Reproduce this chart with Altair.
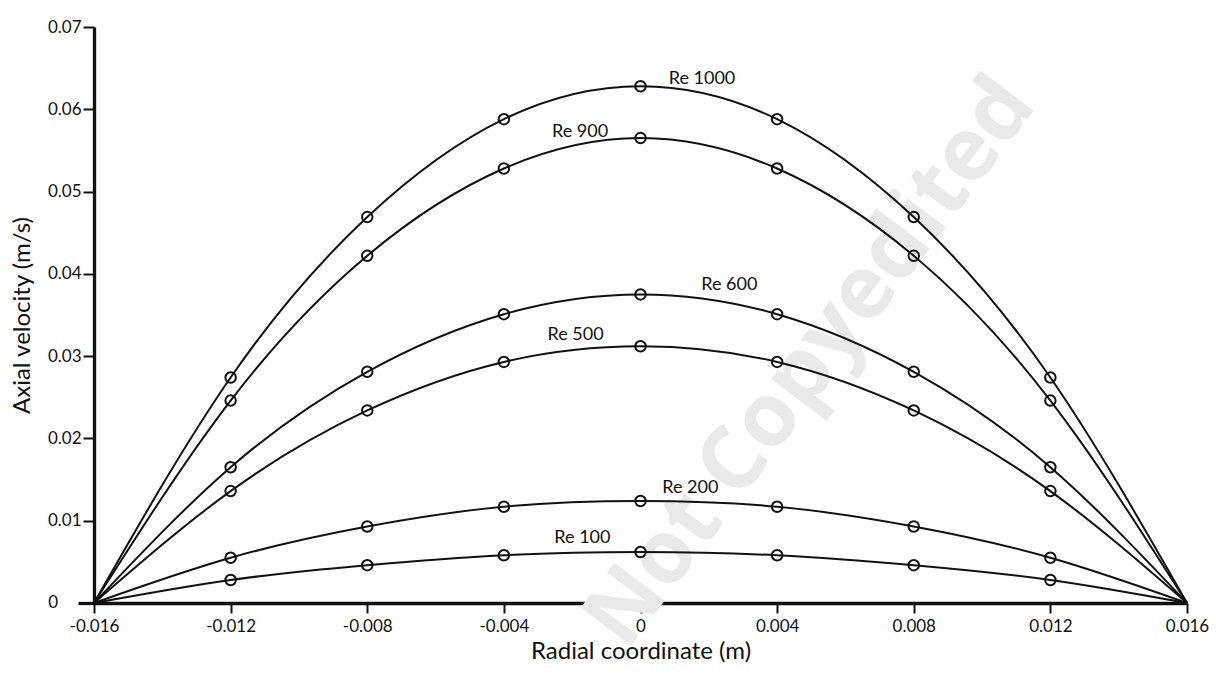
import altair as alt
import pandas as pd

# Radial positions of the sampled points (m)
radial = [-0.012, -0.008, -0.004, 0.0, 0.004, 0.008, 0.012]
wall = 0.016

# Axial velocity (m/s) at each radial position, per Reynolds number
series_names = ["Re 1000", "Re 900", "Re 600", "Re 500", "Re 200", "Re 100"]
vel_re1000 = [0.0274, 0.0469, 0.0588, 0.0628, 0.0588, 0.0469, 0.0274]
vel_re900 = [0.0246, 0.0422, 0.0528, 0.0565, 0.0528, 0.0422, 0.0246]
vel_re600 = [0.0165, 0.0281, 0.0351, 0.0375, 0.0351, 0.0281, 0.0165]
vel_re500 = [0.0136, 0.0234, 0.0293, 0.0312, 0.0293, 0.0234, 0.0136]
vel_re200 = [0.0055, 0.0093, 0.0117, 0.0124, 0.0117, 0.0093, 0.0055]
vel_re100 = [0.0028, 0.0046, 0.0058, 0.0062, 0.0058, 0.0046, 0.0028]
velocities = [vel_re1000, vel_re900, vel_re600, vel_re500, vel_re200, vel_re100]

# Curve label anchors (data coordinates)
label_x = [0.0018, -0.00177, 0.0026, -0.0019, 0.00146, -0.0017]
label_y = [0.0637, 0.0572, 0.0387, 0.0326, 0.0140, 0.0079]

# Tick values
x_ticks = [-0.016, -0.012, -0.008, -0.004, 0.0, 0.004, 0.008, 0.012, 0.016]
y_ticks = [0.0, 0.01, 0.02, 0.03, 0.04, 0.05, 0.06, 0.07]

# Origin label of the velocity axis, set slightly apart from the others
origin_label = ["0"]

# Background stamp
stamp_text = ["Not Copyedited"]
stamp_x = [0.0050]
stamp_y = [0.0292]

points_rows = []
line_rows = []
for name, vals in zip(series_names, velocities):
    for r, u in zip(radial, vals):
        points_rows.append({"series": name, "r": r, "u": u})
    # no-slip at both walls
    line_rows.append({"series": name, "r": -wall, "u": 0.0})
    for r, u in zip(radial, vals):
        line_rows.append({"series": name, "r": r, "u": u})
    line_rows.append({"series": name, "r": wall, "u": 0.0})

points_df = pd.DataFrame(points_rows)
lines_df = pd.DataFrame(line_rows)
labels_df = pd.DataFrame({"series": series_names, "r": label_x, "u": label_y})
stamp_df = pd.DataFrame({"text": stamp_text, "r": stamp_x, "u": stamp_y})
origin_df = pd.DataFrame({"text": origin_label, "r": [-wall], "u": [0.0]})

FONT = "Lato"
INK = "#111111"

x_scale = alt.Scale(domain=[-wall, wall], nice=False, zero=False)
y_scale = alt.Scale(domain=[0, 0.07], nice=False)

x_axis = alt.Axis(
    values=x_ticks,
    labelExpr="(datum.value < 0 ? '-' : '') + format(abs(datum.value), '.3~f')",
    title="Radial coordinate (m)",
    grid=False,
    domainColor=INK,
    domainWidth=3.3,
    tickColor=INK,
    tickWidth=2,
    tickSize=10,
    labelPadding=5,
    labelFont=FONT,
    labelFontSize=17,
    labelColor=INK,
    labelFlush=False,
    titleFont=FONT,
    titleFontSize=24,
    titleFontWeight="normal",
    titleColor=INK,
    titlePadding=5,
)

y_axis = alt.Axis(
    values=y_ticks,
    labelExpr="datum.value == 0 ? '' : format(datum.value, '.2f')",
    title="Axial velocity (m/s)",
    grid=False,
    domainColor=INK,
    domainWidth=3.3,
    tickColor=INK,
    tickWidth={"condition": {"test": "datum.value === 0", "value": 3.3}, "value": 2},
    tickSize={"condition": {"test": "datum.value === 0", "value": 16}, "value": 11},
    labelPadding=2,
    labelFont=FONT,
    labelFontSize=17,
    labelColor=INK,
    labelFlush=False,
    titleFont=FONT,
    titleFontSize=24,
    titleFontWeight="normal",
    titleColor=INK,
    titlePadding=13,
)

stamp = alt.Chart(stamp_df).mark_text(
    font="Open Sans",
    fontWeight="bold",
    fontSize=88,
    angle=307,
    color="#e9e9e9",
    align="center",
    baseline="middle",
).encode(
    x=alt.X("r:Q", scale=x_scale, axis=x_axis),
    y=alt.Y("u:Q", scale=y_scale, axis=y_axis),
    text="text:N",
)

curves = alt.Chart(lines_df).mark_line(
    interpolate="natural", color=INK, strokeWidth=2
).encode(
    x=alt.X("r:Q", scale=x_scale),
    y=alt.Y("u:Q", scale=y_scale),
    detail="series:N",
)

markers = alt.Chart(points_df).mark_point(
    shape="circle", filled=False, size=110, strokeWidth=2, color=INK, opacity=1
).encode(
    x=alt.X("r:Q", scale=x_scale),
    y=alt.Y("u:Q", scale=y_scale),
)

labels = alt.Chart(labels_df).mark_text(
    font=FONT, fontSize=18, color=INK, align="center", baseline="middle"
).encode(
    x=alt.X("r:Q", scale=x_scale),
    y=alt.Y("u:Q", scale=y_scale),
    text="series:N",
)

origin = alt.Chart(origin_df).mark_text(
    font=FONT, fontSize=17, color=INK, align="right", baseline="middle", dx=-36
).encode(
    x=alt.X("r:Q", scale=x_scale),
    y=alt.Y("u:Q", scale=y_scale),
    text="text:N",
)

chart = (
    alt.layer(stamp, curves, markers, labels, origin)
    .properties(
        width=1093,
        height=576,
        autosize=alt.AutoSizeParams(type="none"),
        padding={"left": 94, "top": 27, "right": 29, "bottom": 71},
        background="white",
    )
    .configure_view(stroke="transparent")
)

chart.save("out.html", embed_options={"renderer": "svg", "actions": False})
